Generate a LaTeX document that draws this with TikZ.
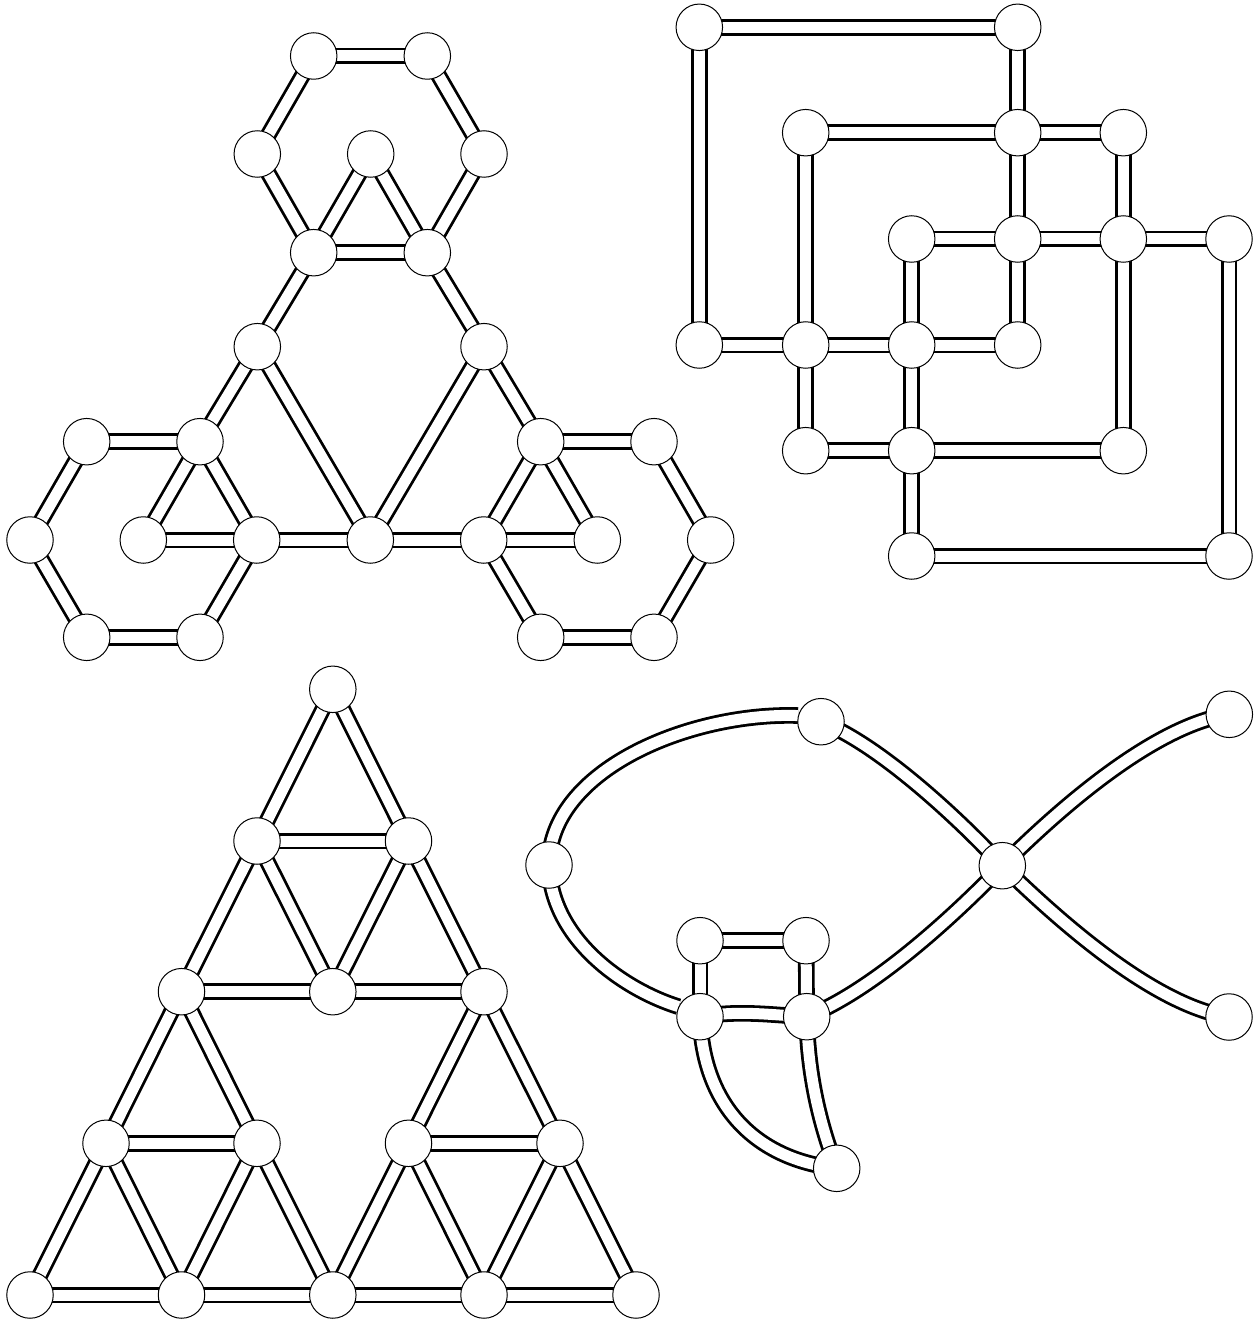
\documentclass[tikz,border=0pt]{standalone}
\pgfdeclarelayer{bg}
\pgfsetlayers{bg,main}
\tikzset{
  vtx/.style={circle, draw=black, line width=1pt, fill=white, minimum size=46.5pt, inner sep=0pt},
  dbl/.style={draw=black, line width=2.8pt, double=white, double distance=11pt}
}
\begin{document}
\begin{tikzpicture}[x=1pt,y=-1pt]
\useasboundingbox (0,0) rectangle (1259,1321);

% ---------- top-left: hexagons ----------
\node[vtx] (a1) at (313.7,56) {};
\node[vtx] (a2) at (427.3,56) {};
\node[vtx] (a3) at (257.3,154) {};
\node[vtx] (a4) at (370.7,154) {};
\node[vtx] (a5) at (484,154) {};
\node[vtx] (a6) at (313.7,252.7) {};
\node[vtx] (a7) at (427.3,252.7) {};
\node[vtx] (a8) at (257.3,346.7) {};
\node[vtx] (a9) at (484,346.7) {};
\node[vtx] (b1) at (86.7,441.7) {};
\node[vtx] (b2) at (200,441.7) {};
\node[vtx] (b3) at (30,540) {};
\node[vtx] (b4) at (143.3,540) {};
\node[vtx] (b5) at (256.7,540) {};
\node[vtx] (b6) at (86.7,637.3) {};
\node[vtx] (b7) at (200,637.3) {};
\node[vtx] (c0) at (370.3,540) {};
\node[vtx] (d1) at (540.7,441.7) {};
\node[vtx] (d2) at (654,441.7) {};
\node[vtx] (d3) at (483.7,540) {};
\node[vtx] (d4) at (597.3,540) {};
\node[vtx] (d5) at (710.7,540) {};
\node[vtx] (d6) at (540.7,637.3) {};
\node[vtx] (d7) at (654,637.3) {};

% ---------- top-right: squares ----------
\node[vtx] (s11) at (699.3,27.3) {};
\node[vtx] (s41) at (1017.7,27.3) {};
\node[vtx] (s22) at (805.7,132.7) {};
\node[vtx] (s42) at (1017.7,132.7) {};
\node[vtx] (s52) at (1123.3,132.7) {};
\node[vtx] (s33) at (911.7,239) {};
\node[vtx] (s43) at (1017.7,239) {};
\node[vtx] (s53) at (1123.3,239) {};
\node[vtx] (s63) at (1229,239) {};
\node[vtx] (s14) at (699.3,345) {};
\node[vtx] (s24) at (805.7,345) {};
\node[vtx] (s34) at (911.7,345) {};
\node[vtx] (s44) at (1017.7,345) {};
\node[vtx] (s25) at (805.7,450.7) {};
\node[vtx] (s35) at (911.7,450.7) {};
\node[vtx] (s55) at (1123.3,450.7) {};
\node[vtx] (s36) at (911.7,556) {};
\node[vtx] (s66) at (1229,556) {};

% ---------- bottom-left: Sierpinski ----------
\node[vtx] (t1) at (332.8,689.3) {};
\node[vtx] (t2) at (257,841) {};
\node[vtx] (t3) at (408.5,841) {};
\node[vtx] (t4) at (181.5,991.7) {};
\node[vtx] (t5) at (332.8,991.7) {};
\node[vtx] (t6) at (484,991.7) {};
\node[vtx] (t7) at (106,1143.3) {};
\node[vtx] (t8) at (257,1143.3) {};
\node[vtx] (t9) at (408.5,1143.3) {};
\node[vtx] (t10) at (560,1143.3) {};
\node[vtx] (t11) at (30,1295) {};
\node[vtx] (t12) at (181.5,1295) {};
\node[vtx] (t13) at (332.8,1295) {};
\node[vtx] (t14) at (484,1295) {};
\node[vtx] (t15) at (636,1295) {};

% ---------- bottom-right: fish ----------
\node[vtx] (f1) at (821,721.7) {};
\node[vtx] (f2) at (1229.3,714.3) {};
\node[vtx] (f3) at (549,865) {};
\node[vtx] (f4) at (1002.3,865.7) {};
\node[vtx] (f5) at (700,940.7) {};
\node[vtx] (f6) at (806,940.7) {};
\node[vtx] (f7) at (700,1016.7) {};
\node[vtx] (f8) at (806.7,1016.7) {};
\node[vtx] (f9) at (836.7,1168.3) {};
\node[vtx] (f10) at (1229,1017) {};

\begin{pgfonlayer}{bg}
\fill[white] (0,0) rectangle (1259,1321);
% top-left edges
\foreach \u/\v in {a1/a2,a1/a3,a2/a5,a3/a6,a5/a7,a6/a7,a4/a6,a4/a7,a6/a8,a7/a9,
  a8/b2,a9/d1,a8/c0,a9/c0,
  b1/b2,b1/b3,b3/b6,b6/b7,b7/b5,b2/b5,b2/b4,b4/b5,b5/c0,c0/d3,
  d1/d2,d2/d5,d5/d7,d7/d6,d6/d3,d3/d1,d1/d4,d3/d4}
  \path[dbl] (\u.center) -- (\v.center);
% top-right edges
\foreach \u/\v in {s11/s41,s11/s14,s41/s42,s42/s43,s43/s44,s44/s34,s34/s24,s24/s14,
  s22/s42,s42/s52,s52/s53,s53/s55,s55/s35,s35/s25,s25/s24,s24/s22,
  s33/s43,s43/s53,s53/s63,s63/s66,s66/s36,s36/s35,s35/s34,s34/s33}
  \path[dbl] (\u.center) -- (\v.center);
% Sierpinski edges
\foreach \u/\v in {t1/t2,t1/t3,t2/t3,t2/t4,t2/t5,t3/t5,t3/t6,t4/t5,t5/t6,
  t4/t7,t4/t8,t7/t8,t7/t11,t7/t12,t8/t12,t8/t13,t11/t12,t12/t13,
  t6/t9,t6/t10,t9/t10,t9/t13,t9/t14,t10/t14,t10/t15,t13/t14,t14/t15}
  \path[dbl] (\u.center) -- (\v.center);
% fish edges
\path[dbl] (f3.center) .. controls (549,770) and (690,712) .. (f1.165);
\path[dbl] (f3.center) .. controls (551,940) and (625,990) .. (f7.155);
\path[dbl] (f1.center) .. controls (880,745) and (960,820) .. (f4.center);
\path[dbl] (f4.center) .. controls (1050,818) and (1150,726) .. (f2.center);
\path[dbl] (f4.center) .. controls (1050,912) and (1150,1005) .. (f10.center);
\path[dbl] (f8.center) .. controls (875,990) and (960,910) .. (f4.center);
\path[dbl] (f5.center) -- (f6.center);
\path[dbl] (f5.center) -- (f7.center);
\path[dbl] (f6.center) -- (f8.center);
\path[dbl] (f7.center) .. controls (740,1010) and (770,1015) .. (f8.center);
\path[dbl] (f7.center) .. controls (703,1110) and (760,1160) .. (f9.center);
\path[dbl] (f8.center) .. controls (808,1080) and (822,1130) .. (f9.center);
\end{pgfonlayer}
\end{tikzpicture}
\end{document}
